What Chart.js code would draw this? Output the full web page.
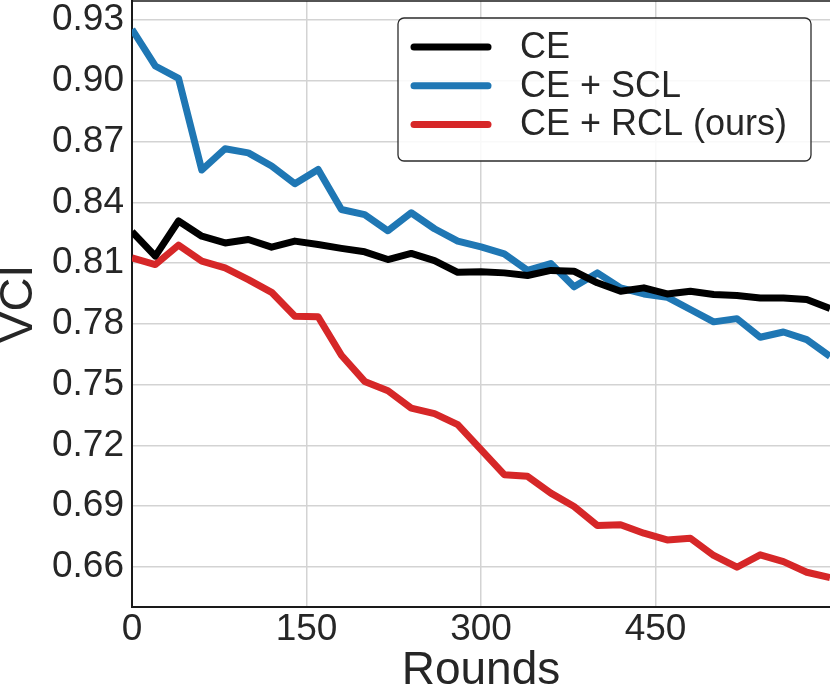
<!DOCTYPE html>
<html>
<head>
<meta charset="utf-8">
<title>VCI vs Rounds</title>
<script src="https://cdn.jsdelivr.net/npm/chart.js@4.4.1/dist/chart.umd.min.js"></script>
<style>
  html, body { margin: 0; padding: 0; background: #fff; }
  #wrap { width: 830px; height: 699px; position: relative; }
</style>
</head>
<body>
<div id="wrap"><canvas id="vciChart"></canvas></div>
<script>
/* ============================================================
   DATA
   ============================================================ */
const rounds = [0, 20, 40, 60, 80, 100, 120, 140, 160, 180, 200, 220, 240, 260, 280,
                300, 320, 340, 360, 380, 400, 420, 440, 460, 480, 500, 520, 540, 560, 580, 600];

const ceValues = [0.8255, 0.8135, 0.8308, 0.8233, 0.8200, 0.8217, 0.8179, 0.8209, 0.8192, 0.8173,
                  0.8156, 0.8118, 0.8148, 0.8113, 0.8055, 0.8057, 0.8052, 0.8039, 0.8064, 0.8060,
                  0.8003, 0.7961, 0.7978, 0.7948, 0.7961, 0.7945, 0.7940, 0.7928, 0.7928, 0.7920, 0.7876];

const sclValues = [0.9255, 0.9074, 0.9013, 0.8560, 0.8665, 0.8645, 0.8580, 0.8492, 0.8563, 0.8365,
                   0.8340, 0.8260, 0.8349, 0.8270, 0.8209, 0.8180, 0.8146, 0.8064, 0.8098, 0.7983,
                   0.8052, 0.7978, 0.7948, 0.7932, 0.7871, 0.7810, 0.7826, 0.7734, 0.7760, 0.7722, 0.7640];

const rclValues = [0.8126, 0.8093, 0.8189, 0.8110, 0.8077, 0.8019, 0.7956, 0.7838, 0.7835, 0.7645,
                   0.7516, 0.7470, 0.7384, 0.7357, 0.7302, 0.7179, 0.7055, 0.7047, 0.6964, 0.6898,
                   0.6804, 0.6808, 0.6766, 0.6733, 0.6741, 0.6656, 0.6598, 0.6659, 0.6626, 0.6573, 0.6547];

const seriesLabels = ['CE', 'CE + SCL', 'CE + RCL (ours)'];
const seriesColors = ['#000000', '#1f77b4', '#d62728'];

const xTicks = [0, 150, 300, 450];
const yTicks = [0.66, 0.69, 0.72, 0.75, 0.78, 0.81, 0.84, 0.87, 0.90, 0.93];

/* ============================================================
   STYLE
   ============================================================ */
const FONT = "'Liberation Sans', Arial, sans-serif";
const TEXT = '#262626';
const GRID = '#d3d3d3';

function toPoints(values) {
  return values.map((v, i) => ({ x: rounds[i], y: v }));
}

/* Axes frame: matplotlib-like top spine (left/bottom come from scale borders) */
const framePlugin = {
  id: 'frame',
  afterDatasetsDraw(chart) {
    const { ctx, chartArea: a } = chart;
    ctx.save();
    ctx.strokeStyle = '#1a1a1a';
    ctx.lineWidth = 1.5;
    ctx.beginPath();
    ctx.moveTo(a.left, a.top);
    ctx.lineTo(a.right, a.top);
    ctx.stroke();
    ctx.restore();
  },
};

/* Boxed legend in the upper right of the plot */
const boxLegend = {
  id: 'boxLegend',
  afterDraw(chart) {
    const { ctx, chartArea: a } = chart;
    const right = a.right - 19;
    const top = a.top + 17;
    const w = 413, h = 143;
    const left = right - w;

    ctx.save();
    ctx.beginPath();
    ctx.roundRect(left, top, w, h, 6);
    ctx.fillStyle = 'rgba(255,255,255,0.85)';
    ctx.fill();
    ctx.strokeStyle = '#2b2b2b';
    ctx.lineWidth = 1.3;
    ctx.stroke();

    ctx.font = '36px ' + FONT;
    ctx.textBaseline = 'middle';
    ctx.textAlign = 'left';
    chart.data.datasets.forEach((ds, i) => {
      const y = top + 29 + i * 38.7;
      ctx.beginPath();
      ctx.strokeStyle = ds.borderColor;
      ctx.lineWidth = 7;
      ctx.lineCap = 'round';
      ctx.moveTo(left + 16, y);
      ctx.lineTo(left + 90, y);
      ctx.stroke();
      ctx.fillStyle = TEXT;
      ctx.fillText(ds.label, left + 122, y + 1);
    });
    ctx.restore();
  },
};

/* ============================================================
   CHART
   ============================================================ */
const ctx = document.getElementById('vciChart');

new Chart(ctx, {
  type: 'line',
  data: {
    datasets: [ceValues, sclValues, rclValues].map((vals, i) => ({
      label: seriesLabels[i],
      data: toPoints(vals),
      borderColor: seriesColors[i],
      backgroundColor: seriesColors[i],
      borderWidth: 7,
      borderJoinStyle: 'round',
      borderCapStyle: 'butt',
      pointRadius: 0,
      pointHoverRadius: 0,
      tension: 0,
      clip: 0,
    })),
  },
  options: {
    responsive: true,
    maintainAspectRatio: false,
    animation: false,
    events: [],
    layout: { padding: { top: 1, right: 0, left: 0, bottom: 0 } },
    plugins: {
      legend: { display: false },
      tooltip: { enabled: false },
    },
    scales: {
      x: {
        type: 'linear',
        min: 0,
        max: 600,
        afterBuildTicks: scale => { scale.ticks = xTicks.map(v => ({ value: v })); },
        afterFit: scale => {
          scale.height = 92.5;
          scale.paddingLeft = 0;
          scale.paddingRight = 0;
        },
        grid: { color: GRID, lineWidth: 1.5, drawTicks: false },
        border: { display: true, color: '#1a1a1a', width: 2 },
        ticks: {
          color: TEXT,
          padding: 1,
          maxRotation: 0,
          font: { family: FONT, size: 37, lineHeight: 1.2 },
          callback: v => String(v),
        },
        title: {
          display: true,
          text: 'Rounds',
          color: TEXT,
          padding: { top: 0, bottom: 0 },
          font: { family: FONT, size: 46, lineHeight: 1.2 },
        },
      },
      y: {
        min: 0.6404,
        max: 0.9395,
        afterBuildTicks: scale => { scale.ticks = yTicks.map(v => ({ value: v })); },
        afterFit: scale => {
          scale.width = 132;
          scale.paddingTop = 0;
          scale.paddingBottom = 0;
        },
        grid: { color: GRID, lineWidth: 1.5, drawTicks: false },
        border: { display: true, color: '#1a1a1a', width: 2 },
        ticks: {
          color: TEXT,
          padding: 8,
          font: { family: FONT, size: 37, lineHeight: 1 },
          callback: v => Number(v).toFixed(2),
        },
        title: {
          display: true,
          text: 'VCI',
          color: TEXT,
          padding: { top: 0, bottom: 0 },
          font: { family: FONT, size: 47, lineHeight: 0.8 },
        },
      },
    },
  },
  plugins: [framePlugin, boxLegend],
});
</script>
</body>
</html>
